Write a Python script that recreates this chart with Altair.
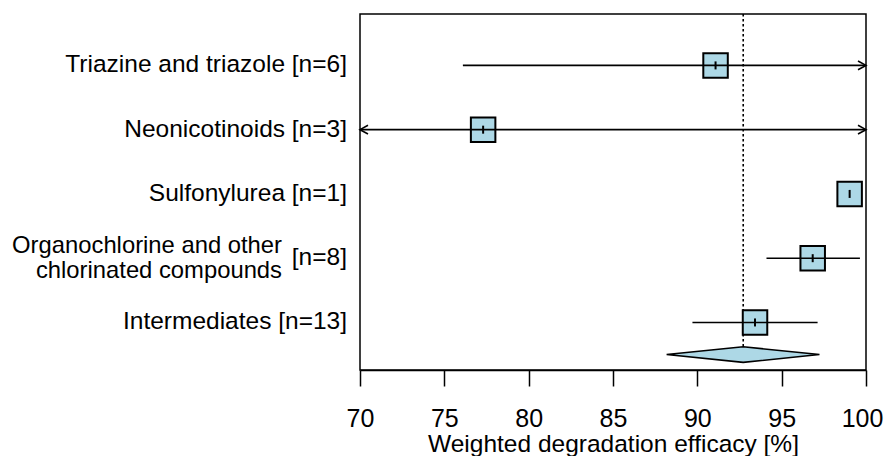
import altair as alt
import pandas as pd

# ---- data ----
labels = ["Triazine and triazole [n=6]", "Neonicotinoids [n=3]", "Sulfonylurea [n=1]",
          "", "Intermediates [n=13]"]
estimate = [91.08, 77.30, 99.03, 96.84, 93.42]
ci_lower = [76.10, 70.00, 99.03, 94.10, 89.71]
ci_upper = [100.00, 100.00, 99.03, 99.64, 97.13]
arrow_left = [False, True, False, False, False]
arrow_right = [True, True, False, False, False]
organo_lines = ["Organochlorine and other", "chlorinated compounds"]
organo_n = "[n=8]"

summary_est = 92.72
summary_lower = 88.18
summary_upper = 97.24

x_ticks = [70, 75, 80, 85, 90, 95, 100]
x_title = "Weighted degradation efficacy [%]"

# ---- layout/style ----
FONT = "Liberation Sans"
FILL = "#ADD8E6"
X_DOMAIN = [70, 100]
Y_DOMAIN = [0.26, 5.8]
SUMMARY_ROW = 0.5
DIAMOND_HALF = 0.121

n = len(estimate)
rows = [n - i for i in range(n)]

df = pd.DataFrame({
    "label": labels, "est": estimate, "lo": ci_lower, "hi": ci_upper,
    "row": rows, "al": arrow_left, "ar": arrow_right,
})

xs = alt.Scale(domain=X_DOMAIN, nice=False, zero=False)
ys = alt.Scale(domain=Y_DOMAIN, nice=False, zero=False)

xaxis = alt.Axis(values=x_ticks, title=x_title, grid=False, tickSize=16, tickWidth=1.5,
                 tickColor="black", domainColor="black", domainWidth=1.5,
                 labelFontSize=25, labelColor="black", labelFont=FONT,
                 labelBaseline="alphabetic", labelPadding=40, labelFlush=False,
                 labelOverlap=False,
                 labelOffset={"condition": {"test": "datum.value == 100", "value": -4}, "value": 0},
                 titleFontSize=24.5, titleFont=FONT,
                 titleFontWeight="normal", titleColor="black", titleY=81,
                 titleBaseline="alphabetic")

base = alt.Chart(df)

# reference (dotted) line at the summary estimate
ref_df = pd.DataFrame({"x": [summary_est], "yt": [Y_DOMAIN[1]], "yb": [SUMMARY_ROW]})
refline = alt.Chart(ref_df).mark_rule(color="black", strokeWidth=1.6, strokeDash=[2.5, 2.5]).encode(
    x=alt.X("x:Q", scale=xs, axis=xaxis),
    y=alt.Y("yt:Q", scale=ys, axis=None),
    y2="yb:Q",
)

squares = base.mark_square(size=600, fill=FILL, stroke="black", strokeWidth=2, opacity=1).encode(
    x=alt.X("est:Q", scale=xs, axis=xaxis),
    y=alt.Y("row:Q", scale=ys, axis=None),
)

ci = base.mark_rule(color="black", strokeWidth=1.6).encode(
    x=alt.X("lo:Q", scale=xs, axis=xaxis),
    x2="hi:Q",
    y=alt.Y("row:Q", scale=ys, axis=None),
)

est_tick = base.mark_point(shape="M 0 -1 L 0 1", size=64, filled=False, color="black",
                           strokeWidth=2, opacity=1).encode(
    x=alt.X("est:Q", scale=xs, axis=xaxis),
    y=alt.Y("row:Q", scale=ys, axis=None),
)

arr_r = base.transform_filter("datum.ar").mark_point(
    shape="M -1 -0.55 L 0 0 L -1 0.55", size=256, filled=False, color="black",
    strokeWidth=1.6, opacity=1).encode(
    x=alt.X("hi:Q", scale=xs, axis=xaxis),
    y=alt.Y("row:Q", scale=ys, axis=None),
)

arr_l = base.transform_filter("datum.al").mark_point(
    shape="M 1 -0.55 L 0 0 L 1 0.55", size=256, filled=False, color="black",
    strokeWidth=1.6, opacity=1).encode(
    x=alt.X("lo:Q", scale=xs, axis=xaxis),
    y=alt.Y("row:Q", scale=ys, axis=None),
)

dia_df = pd.DataFrame({
    "x": [summary_lower, summary_est, summary_upper],
    "y": [SUMMARY_ROW, SUMMARY_ROW + DIAMOND_HALF, SUMMARY_ROW],
    "y2": [SUMMARY_ROW, SUMMARY_ROW - DIAMOND_HALF, SUMMARY_ROW],
})
diamond = alt.Chart(dia_df).mark_area(fill=FILL, stroke="black", strokeWidth=1.6,
                                      opacity=1, fillOpacity=1).encode(
    x=alt.X("x:Q", scale=xs, axis=xaxis),
    y=alt.Y("y:Q", scale=ys, axis=None),
    y2="y2:Q",
)

row_text = base.transform_filter("datum.label != ''").mark_text(
    align="right", baseline="middle", fontSize=24.5, font=FONT, color="black").encode(
    x=alt.value(-13),
    y=alt.Y("row:Q", scale=ys, axis=None),
    text="label:N",
)

organo_row = rows[3]
org_df = pd.DataFrame({"t": organo_lines, "row": [organo_row, organo_row], "k": [0, 1]})
org1 = alt.Chart(org_df).transform_filter("datum.k == 0").mark_text(
    align="right", baseline="middle", fontSize=23.8, font=FONT, color="black", dy=-12.5).encode(
    x=alt.value(-78), y=alt.Y("row:Q", scale=ys, axis=None), text="t:N")
org2 = alt.Chart(org_df).transform_filter("datum.k == 1").mark_text(
    align="right", baseline="middle", fontSize=23.8, font=FONT, color="black", dy=12.5).encode(
    x=alt.value(-78), y=alt.Y("row:Q", scale=ys, axis=None), text="t:N")
orgn_df = pd.DataFrame({"t": [organo_n], "row": [organo_row]})
orgn = alt.Chart(orgn_df).mark_text(
    align="right", baseline="middle", fontSize=24.5, font=FONT, color="black").encode(
    x=alt.value(-13), y=alt.Y("row:Q", scale=ys, axis=None), text="t:N")

chart = alt.layer(
    refline, squares, ci, est_tick, arr_r, arr_l, diamond, row_text, org1, org2, orgn
).properties(
    width=506, height=356,
    padding={"left": 352, "top": 6, "right": 18, "bottom": 86},
    autosize="none",
    background="white",
).configure_view(stroke="black", strokeWidth=1.5)

chart.save("out.html", embed_options={"renderer": "svg", "actions": False})
